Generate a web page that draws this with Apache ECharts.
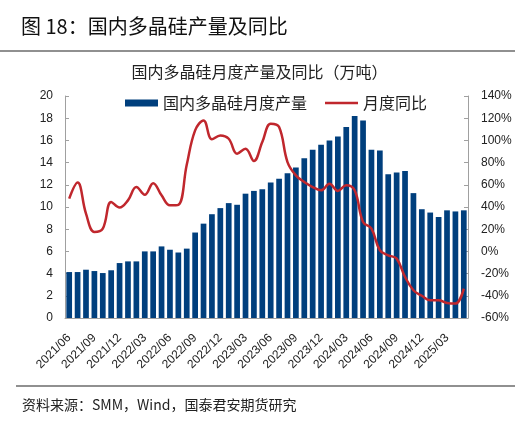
<!DOCTYPE html>
<html><head><meta charset="utf-8">
<script src="https://cdn.jsdelivr.net/npm/echarts@6/dist/echarts.min.js"></script>
<style>html,body{margin:0;padding:0;background:#fff}#c{width:519px;height:426px}</style>
</head><body><div id="c"></div>
<script>
var categories = (function(){
  var out = [];
  var y = 2021, m = 6;
  for (var i = 0; i < 48; i++) {
    out.push(y + '/' + (m < 10 ? '0' + m : '' + m));
    m++; if (m > 12) { m = 1; y++; }
  }
  return out;
})();
var production = [4.14, 4.14, 4.35, 4.23, 4.05, 4.3, 4.95, 5.1, 5.1, 6.0, 6.0, 6.45, 6.15, 5.9, 6.25, 7.7, 8.5, 9.35, 9.9, 10.35, 10.2, 11.2, 11.45, 11.6, 12.2, 12.55, 13.05, 13.55, 14.4, 15.15, 15.6, 16.0, 16.35, 17.2, 18.2, 17.8, 15.15, 15.1, 12.95, 13.1, 13.25, 11.25, 9.8, 9.5, 9.1, 9.7, 9.6, 9.7];
var yoy = [47.5, 62, 34, 17.5, 20.5, 44.5, 39.5, 46, 58, 51, 61.5, 50.5, 41.5, 42, 78, 109, 118, 101, 104.5, 101.5, 88, 92.5, 81.5, 98.5, 115, 112, 80.5, 68.5, 62.5, 58, 55, 61, 54.5, 59.5, 55, 26.5, 20.5, 1, -3.5, -6.5, -23, -35, -40, -44, -44, -46.5, -47, -33.5];
var leftTicks = [0, 20, 2];
var rightTicks = [-60, 140, 20];
var seriesNames = ['国内多晶硅月度产量', '月度同比'];

var chart = echarts.init(document.getElementById('c'));
var font = "'Noto Sans CJK SC', sans-serif";
var numFont = "'Liberation Sans', Arial, sans-serif";
chart.setOption({
  animation: false,
  backgroundColor: '#fff',
  title: [
    { text: '图 18：国内多晶硅产量及同比', left: 16, top: 11, textStyle: { fontFamily: font, fontSize: 20, fontWeight: 'normal', color: '#111' } },
    { text: '国内多晶硅月度产量及同比（万吨）', left: 'center', top: 59, textStyle: { fontFamily: font, fontSize: 16, fontWeight: 'normal', color: '#222' } },
    { text: '资料来源：SMM，Wind，国泰君安期货研究', left: 17, top: 393, textStyle: { fontFamily: font, fontSize: 14, fontWeight: 'normal', color: '#222' } }
  ],
  graphic: [
    { type: 'line', shape: { x1: 0, y1: 51, x2: 515, y2: 51 }, style: { stroke: '#222', lineWidth: 1.2 } },
    { type: 'line', shape: { x1: 16, y1: 386, x2: 515, y2: 386 }, style: { stroke: '#222', lineWidth: 1.2 } }
  ],
  legend: [
    { top: 90, left: 120, itemWidth: 33, itemHeight: 7,
      textStyle: { fontFamily: font, fontSize: 16, color: '#222' },
      data: [{ name: seriesNames[0], icon: 'rect' }] },
    { top: 90, left: 320, itemWidth: 33, itemHeight: 7,
      textStyle: { fontFamily: font, fontSize: 16, color: '#222' },
      data: [{ name: seriesNames[1], icon: 'path://M0,0L33,0L33,2.5L0,2.5Z', itemStyle: { color: '#c0272d' } }] }
  ],
  grid: { left: 65, right: 51, top: 96, bottom: 108, containLabel: false },
  xAxis: {
    type: 'category', data: categories, boundaryGap: true,
    axisLine: { lineStyle: { color: '#a0a0a0' } },
    axisTick: { inside: true, interval: 2, length: 4, lineStyle: { color: '#a0a0a0' } },
    axisLabel: { interval: 2, rotate: 45, fontFamily: numFont, fontSize: 12, color: '#222', margin: 18 }
  },
  yAxis: [
    { type: 'value', min: leftTicks[0], max: leftTicks[1], interval: leftTicks[2],
      splitLine: { show: false },
      axisLine: { show: true, lineStyle: { color: '#a0a0a0' } },
      axisTick: { show: true, inside: true, length: 4, lineStyle: { color: '#a0a0a0' } },
      axisLabel: { fontFamily: numFont, fontSize: 12, color: '#222', margin: 12 } },
    { type: 'value', min: rightTicks[0], max: rightTicks[1], interval: rightTicks[2],
      splitLine: { show: false },
      axisLine: { show: true, lineStyle: { color: '#a0a0a0' } },
      axisTick: { show: true, inside: true, length: 4, lineStyle: { color: '#a0a0a0' } },
      axisLabel: { fontFamily: numFont, fontSize: 12, color: '#222', margin: 13, formatter: '{value}%' } }
  ],
  series: [
    { name: seriesNames[0], type: 'bar', data: production, yAxisIndex: 0, barCategoryGap: '32%',
      itemStyle: { color: '#003f7d' } },
    { name: seriesNames[1], type: 'line', data: yoy, yAxisIndex: 1, smooth: 0.4, symbol: 'none',
      lineStyle: { color: '#c0272d', width: 2.5 }, itemStyle: { color: '#c0272d' } }
  ]
});
</script></body></html>
